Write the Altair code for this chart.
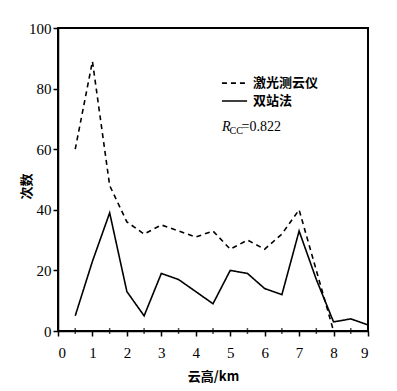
import altair as alt
import pandas as pd

x_laser = [0.5, 1, 1.5, 2, 2.5, 3, 3.5, 4, 4.5, 5, 5.5, 6, 6.5, 7, 7.5, 8]
laser = [60, 89, 48, 36, 32, 35, 33, 31, 33, 27, 30, 27, 32, 40, 20, 0]
x_dual = [0.5, 1, 1.5, 2, 2.5, 3, 3.5, 4, 4.5, 5, 5.5, 6, 6.5, 7, 7.5, 8, 8.5, 9]
dual = [5, 23, 39, 13, 5, 19, 17, 13, 9, 20, 19, 14, 12, 33, 17, 3, 4, 2]
series_names = ["激光测云仪", "双站法"]
x_ticks = [0, 1, 2, 3, 4, 5, 6, 7, 8, 9]
x_minor = [0.5, 1.5, 2.5, 3.5, 4.5, 5.5, 6.5, 7.5, 8.5]
y_ticks = [0, 20, 40, 60, 80, 100]

# legend / annotation anchors (data units)
leg_x0, leg_x1, leg_xt = 4.76, 5.49, 5.66
leg_y = [81.8, 75.9]
r_label = ["R", "CC", "=0.822"]
r_x = [4.76, 4.98, 5.33]
r_y = [67.3, 66.0, 67.3]

rows = [{"x": a, "y": b, "s": series_names[0]} for a, b in zip(x_laser, laser)]
rows += [{"x": a, "y": b, "s": series_names[1]} for a, b in zip(x_dual, dual)]
df = pd.DataFrame(rows)

serif = "Liberation Serif"
cjk = "Noto Sans CJK SC"

xscale = alt.Scale(domain=[0, 9], nice=False)
yscale = alt.Scale(domain=[0, 100], nice=False)
dash = alt.Scale(domain=series_names, range=[[5, 4], [1, 0]])

xaxis = alt.Axis(
    values=x_ticks, title="云高/km", titlePadding=10, labelPadding=9,
    labelOverlap=False)
yaxis = alt.Axis(
    values=y_ticks, title="次数", titleX=-32, titleY=158, titleAngle=270,
    titleAlign="center", titleBaseline="middle", labelPadding=2)

def X(field):
    return alt.X(field, scale=xscale, axis=xaxis, title="云高/km")

def Y(field):
    return alt.Y(field, scale=yscale, axis=yaxis, title="次数")

lines = alt.Chart(df).mark_line(strokeWidth=1.6, color="black", clip=True).encode(
    x=X("x:Q"), y=Y("y:Q"),
    strokeDash=alt.StrokeDash("s:N", scale=dash, legend=None),
)

minor = alt.Chart(pd.DataFrame({"x": x_minor, "y": [0] * len(x_minor)})).mark_tick(
    orient="vertical", size=6, thickness=1.5, color="black", clip=False).encode(
    x=X("x:Q"), y=Y("y:Q"))

leg_df = pd.DataFrame({"x": [leg_x0] * 2, "x2": [leg_x1] * 2, "xt": [leg_xt] * 2,
                       "y": leg_y, "s": series_names})
leg_lines = alt.Chart(leg_df).mark_rule(strokeWidth=1.6, color="black").encode(
    x=X("x:Q"), x2="x2:Q", y=Y("y:Q"),
    strokeDash=alt.StrokeDash("s:N", scale=dash, legend=None))
leg_text = alt.Chart(leg_df).mark_text(font=cjk, fontSize=13, fontWeight="bold",
                                       align="left", baseline="middle", color="black").encode(
    x=X("xt:Q"), y=Y("y:Q"), text="s:N")

ann = pd.DataFrame({"t": r_label, "x": r_x, "y": r_y})
r_text = alt.Chart(ann.iloc[[0]]).mark_text(font=serif, fontSize=14, fontStyle="italic",
                                            align="left", baseline="middle", color="black").encode(
    x=X("x:Q"), y=Y("y:Q"), text="t:N")
cc_text = alt.Chart(ann.iloc[[1]]).mark_text(font=serif, fontSize=10,
                                             align="left", baseline="middle", color="black").encode(
    x=X("x:Q"), y=Y("y:Q"), text="t:N")
val_text = alt.Chart(ann.iloc[[2]]).mark_text(font=serif, fontSize=14,
                                              align="left", baseline="middle", color="black").encode(
    x=X("x:Q"), y=Y("y:Q"), text="t:N")

chart = alt.layer(lines, minor, leg_lines, leg_text, r_text, cc_text, val_text).properties(
    width=310, height=303,
    background="white",
    view=alt.ViewBackground(stroke="#000000", strokeWidth=2, strokeOpacity=1),
    autosize=alt.AutoSizeParams(type="none"),
    padding={"left": 50, "top": 20, "right": 20, "bottom": 60},
).configure_view(stroke="#000000", strokeWidth=2, strokeOpacity=1).configure_axis(
    labelFont=serif, labelFontSize=15, labelFontWeight="normal", labelColor="black",
    titleFont=cjk, titleFontSize=13, titleFontWeight="bold", titleColor="black",
    tickSize=5, tickColor="black", tickWidth=1.5, domainColor="black",
    domainWidth=1.5, grid=False)

chart.save("out.html", embed_options={"renderer": "svg", "actions": False})
